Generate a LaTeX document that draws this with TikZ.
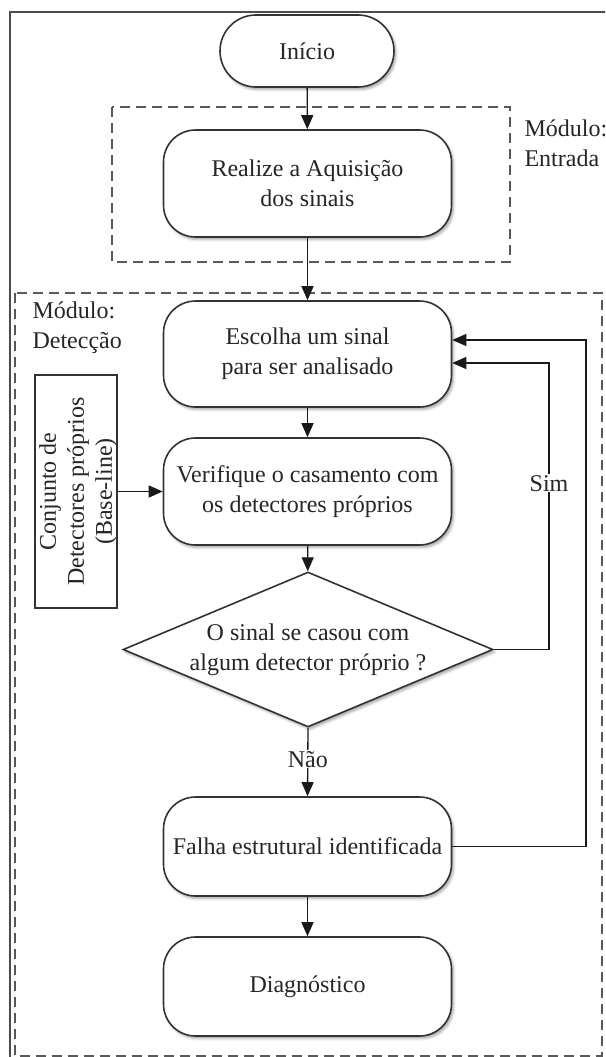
\documentclass[tikz,border=0pt]{standalone}
\usepackage{fontspec}
\setmainfont{Liberation Serif}
\usetikzlibrary{shapes.geometric,arrows.meta,calc,shadows.blur}
\begin{document}
\begin{tikzpicture}[x=1pt,y=-1pt,
  every node/.style={text=black!85, font=\fontsize{24}{30}\selectfont},
  soft/.style={blur shadow={shadow xshift=2pt, shadow yshift=-2.5pt, shadow blur radius=2.5pt, shadow opacity=35}},
  proc/.style={draw=black!80, line width=1.6pt, rounded corners=32pt, minimum width=288,
    align=center, inner sep=0pt, fill=white, soft},
  term/.style={proc, rounded corners=36pt, minimum width=174, minimum height=72},
  decision/.style={draw=black!80, line width=1.6pt, diamond, minimum width=370, minimum height=155,
    inner sep=0pt, fill=white, soft},
  store/.style={draw=black!80, line width=1.6pt, minimum width=82, minimum height=233, inner sep=0pt, fill=white},
  module/.style={draw=black!65, line width=1.6pt, dash pattern=on 10pt off 6pt},
  flow/.style={draw=black!90, line width=1.3pt, -{Triangle[length=14pt,width=12pt]}},
  tag/.style={fill=white, inner sep=1pt}
]
\useasboundingbox (0,0) rectangle (605,1057);
\clip (0,0) rectangle (605,1057);

% page frame
\draw[black!70, line width=1.4pt] (10,12) rectangle (640,1090);

% module outlines
\draw[module] (112,107) rectangle (510,262);
\draw[module] (15,293) rectangle (602,1056);

\node[anchor=west, align=left] (modin) at (521,143) {Módulo:\\Entrada};
\node[anchor=west, align=left] (moddet) at (29,327.5) {Módulo:\\Detecção};

% flow steps
\node[term] (inicio) at (307,51) {Início};
\node[proc, minimum height=107] (aquis) at (307.5,183.5) {Realize a Aquisição\\dos sinais};
\node[proc, minimum height=106] (escolha) at (307.5,354) {Escolha um sinal\\para ser analisado};
\node[proc, minimum height=107] (verif) at (307.5,491.5) {Verifique o casamento com\\os detectores próprios};
\node[decision] (teste) at (308,649.5) {};
\node[align=center] (testetxt) at (teste.center) {O sinal se casou com\\algum detector próprio ?};
\node[proc, minimum height=99] (falha) at (307.5,846.5) {Falha estrutural identificada};
\node[proc, minimum height=99] (diag) at (307.5,986.5) {Diagnóstico};

% detector set
\node[store] (conj) at (76,491.5) {};
\node[rotate=90, align=center, font=\fontsize{24}{28}\selectfont] (conjtxt) at ($(conj.center)+(2,0)$)
  {Conjunto de\\Detectores próprios\\(Base-line)};

% connectors
\draw[flow] (inicio) -- (aquis);
\draw[flow] (aquis) -- (escolha);
\draw[flow] (escolha) -- (verif);
\draw[flow] (conj) -- (verif);
\draw[flow] (verif) -- (teste);
\draw[flow] (teste.south) -- node[tag, pos=0.46] {Não} (falha.north);
\draw[flow] (falha) -- (diag);

\coordinate (simIn) at ($(escolha.east)+(0,9)$);
\coordinate (loopIn) at ($(escolha.east)+(0,-14)$);
\coordinate (simA) at (549,649.5);
\coordinate (simB) at (549,363);
\coordinate (loopA) at (586,846.5);
\coordinate (loopB) at (586,340);

\draw[flow] (teste.east) -- (simA) -- node[tag, pos=0.58] {Sim} (simB) -- (simIn);
\draw[flow] (falha.east) -- (loopA) -- (loopB) -- (loopIn);
\end{tikzpicture}
\end{document}
